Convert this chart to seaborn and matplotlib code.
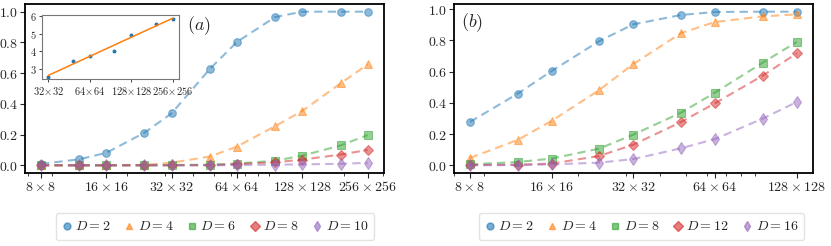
import numpy as np
import pandas as pd
import seaborn as sns
import matplotlib.pyplot as plt
from matplotlib.lines import Line2D
from matplotlib.ticker import FixedLocator, NullFormatter, FuncFormatter

# ---- data ----
sizes_a = [8, 12, 16, 24, 32, 48, 64, 96, 128, 192, 256]
dims_a = [2, 4, 6, 8, 10]
prob_a = {
    2: [0.009, 0.039, 0.081, 0.212, 0.338, 0.627, 0.803, 0.965, 1.0, 1.0, 1.0],
    4: [0.0, 0.0, 0.0, 0.003, 0.017, 0.057, 0.122, 0.255, 0.354, 0.533, 0.657],
    6: [0.0, 0.0, 0.0, 0.0, 0.002, 0.004, 0.011, 0.03, 0.063, 0.129, 0.197],
    8: [0.0, 0.0, 0.0, 0.0, 0.0, 0.001, 0.008, 0.02, 0.037, 0.07, 0.1],
    10: [0.0, 0.0, 0.0, 0.0, 0.0, 0.0, 0.002, 0.004, 0.006, 0.01, 0.016],
}

sizes_b = [8, 12, 16, 24, 32, 48, 64, 96, 128]
dims_b = [2, 4, 8, 12, 16]
prob_b = {
    2: [0.277, 0.458, 0.603, 0.795, 0.902, 0.962, 0.981, 0.983, 0.983],
    4: [0.047, 0.162, 0.284, 0.482, 0.648, 0.846, 0.917, 0.953, 0.966],
    8: [0.006, 0.021, 0.043, 0.107, 0.196, 0.337, 0.465, 0.657, 0.789],
    12: [0.002, 0.004, 0.011, 0.06, 0.132, 0.277, 0.397, 0.574, 0.716],
    16: [0.0, 0.002, 0.006, 0.017, 0.04, 0.109, 0.168, 0.299, 0.405],
}

inset_sizes = [32, 48, 64, 96, 128, 192, 256]
inset_vals = [2.54, 3.46, 3.72, 4.04, 4.9, 5.56, 5.81]

markers = ['o', '^', 's', 'D', 'd']
colors = sns.color_palette('tab10', 5)

sns.set_theme(style='ticks')
plt.rcParams['mathtext.fontset'] = 'cm'
plt.rcParams['font.family'] = ['DejaVu Serif']
plt.rcParams['axes.edgecolor'] = 'black'
plt.rcParams['axes.linewidth'] = 1.3


def long_frame(sizes, dims, probs):
    rows = []
    for d in dims:
        for L, p in zip(sizes, probs[d]):
            rows.append({'L': L, 'P': p, 'D': d})
    return pd.DataFrame(rows)


def size_label(v, pos=None):
    v = int(round(v))
    return r'$%d\times%d$' % (v, v)


def draw_panel(ax, sizes, dims, probs, tag, tag_xy):
    df = long_frame(sizes, dims, probs)
    for i, d in enumerate(dims):
        sub = df[df['D'] == d]
        sns.lineplot(data=sub, x='L', y='P', ax=ax, color=colors[i],
                     linestyle=(0, (4, 2.5)), linewidth=1.5, alpha=0.5,
                     marker=markers[i], markersize=5.5 if markers[i] != 'd' else 6.5,
                     markeredgecolor=colors[i], markeredgewidth=0.8,
                     legend=False)
    ax.set_xscale('log')
    ax.xaxis.set_major_locator(FixedLocator(sizes[::2]))
    ax.xaxis.set_major_formatter(FuncFormatter(size_label))
    ax.xaxis.set_minor_formatter(NullFormatter())
    ax.yaxis.set_major_locator(FixedLocator([0, 0.2, 0.4, 0.6, 0.8, 1.0]))
    ax.yaxis.set_major_formatter(FuncFormatter(lambda v, p: r'$%.1f$' % v))
    ax.tick_params(labelsize=10, length=3.5, width=0.8, pad=1)
    ax.tick_params(axis='x', pad=1.5)
    ax.tick_params(which='minor', length=2, width=0.6)
    ax.set_xlabel('')
    ax.set_ylabel('')
    ax.text(tag_xy[0], tag_xy[1], tag, transform=ax.transAxes, fontsize=13,
            ha='center', va='center')


def add_legend(fig, dims, cx, cy):
    handles = [Line2D([], [], linestyle='none', marker=markers[i],
                      color=colors[i], alpha=0.6, markersize=5)
               for i in range(len(dims))]
    labels = [r'$D=%d$' % d for d in dims]
    fig.legend(handles, labels, loc='center', bbox_to_anchor=(cx, cy), ncol=5,
               fontsize=10, handlelength=0.7, handletextpad=0.25,
               columnspacing=1.0, frameon=True, fancybox=True,
               edgecolor='#dddddd', borderpad=0.45)


fig = plt.figure(figsize=(8.31, 2.46), dpi=100)
ax_a = fig.add_axes([24.5 / 831, 1 - 173 / 246, 359.5 / 831, 169 / 246])
ax_b = fig.add_axes([453.5 / 831, 1 - 173 / 246, 359.5 / 831, 169 / 246])

draw_panel(ax_a, sizes_a, dims_a, prob_a, r'$(a)$', (0.485, 0.87))
draw_panel(ax_b, sizes_b, dims_b, prob_b, r'$(b)$', (0.052, 0.89))

# inset with the fitted growth
ins = fig.add_axes([42 / 831, 1 - 79 / 246, 137 / 831, 64 / 246])
sns.scatterplot(x=inset_sizes, y=inset_vals, ax=ins, color=colors[0], s=8,
                linewidth=0)
coef = np.polyfit(np.log2(inset_sizes), inset_vals, 1)
fit_x = np.array([inset_sizes[0], inset_sizes[-1]])
ins.plot(fit_x, np.polyval(coef, np.log2(fit_x)), color=colors[1], lw=1.1)
ins.set_xscale('log')
ins.xaxis.set_major_locator(FixedLocator([32, 64, 128, 256]))
ins.xaxis.set_major_formatter(FuncFormatter(lambda v, p: r'$%d\!\times\!%d$' % (v, v)))
ins.xaxis.set_minor_locator(FixedLocator([]))
ins.yaxis.set_major_locator(FixedLocator([3, 4, 5, 6]))
ins.yaxis.set_major_formatter(FuncFormatter(lambda v, p: r'$%d$' % v))
ins.tick_params(labelsize=7.5, length=2.5, width=0.6, pad=1.5)
for s in ins.spines.values():
    s.set_color('#777777')
    s.set_linewidth(0.8)
ins.set_ylim(2.42, 6.06)

add_legend(fig, dims_a, 215 / 831, 1 - 226.5 / 246)
add_legend(fig, dims_b, 641.5 / 831, 1 - 226.5 / 246)

fig.savefig('out.png', dpi=100)
